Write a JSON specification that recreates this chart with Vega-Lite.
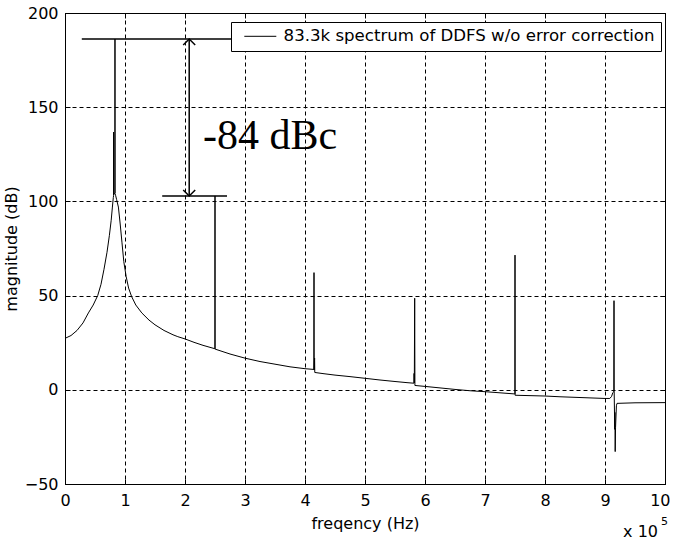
{
  "$schema": "https://vega.github.io/schema/vega-lite/v6.json",
  "width": 600,
  "height": 471,
  "autosize": {"type": "none"},
  "padding": {"left": 65, "top": 13, "right": 8, "bottom": 58},
  "background": "white",
  "config": {
    "view": {"stroke": "black", "strokeWidth": 1},
    "axis": {
      "domainColor": "black",
      "tickColor": "black",
      "labelColor": "black",
      "titleColor": "black",
      "labelFont": "DejaVu Sans",
      "labelFontSize": 16,
      "titleFont": "DejaVu Sans",
      "titleFontSize": 16,
      "titleFontWeight": "normal",
      "labelFlush": false,
      "labelOverlap": false,
      "labelBound": false
    }
  },
  "resolve": {"axis": {"x": "independent", "y": "independent"}},
  "layer": [
    {
      "data": {"values": [
        {"f": 0.00, "dB": 27.3}, {"f": 0.10, "dB": 28.8}, {"f": 0.20, "dB": 31.5}, {"f": 0.30, "dB": 35.5},
        {"f": 0.39, "dB": 40.8}, {"f": 0.47, "dB": 45.0}, {"f": 0.545, "dB": 50.0}, {"f": 0.60, "dB": 56.0},
        {"f": 0.65, "dB": 64.0}, {"f": 0.70, "dB": 73.0}, {"f": 0.74, "dB": 82.0}, {"f": 0.77, "dB": 90.0},
        {"f": 0.79, "dB": 97.0}, {"f": 0.805, "dB": 102.0}, {"f": 0.8095, "dB": 103.0}, {"f": 0.81, "dB": 136.8},
        {"f": 0.8105, "dB": 103.5}, {"f": 0.82, "dB": 104.0}, {"f": 0.8325, "dB": 104.5}, {"f": 0.833, "dB": 186.2},
        {"f": 0.8335, "dB": 104.2}, {"f": 0.845, "dB": 103.0}, {"f": 0.86, "dB": 101.0}, {"f": 0.89, "dB": 97.0},
        {"f": 0.92, "dB": 88.0}, {"f": 0.95, "dB": 78.0}, {"f": 0.98, "dB": 68.0}, {"f": 1.02, "dB": 60.0},
        {"f": 1.06, "dB": 54.0}, {"f": 1.11, "dB": 49.5}, {"f": 1.18, "dB": 45.0}, {"f": 1.28, "dB": 40.8},
        {"f": 1.40, "dB": 37.0}, {"f": 1.50, "dB": 34.5}, {"f": 1.65, "dB": 31.5}, {"f": 1.80, "dB": 29.2},
        {"f": 1.88, "dB": 28.2}, {"f": 2.00, "dB": 27.0}, {"f": 2.15, "dB": 25.2}, {"f": 2.30, "dB": 23.6},
        {"f": 2.498, "dB": 21.8}, {"f": 2.50, "dB": 102.9}, {"f": 2.502, "dB": 21.6}, {"f": 2.75, "dB": 19.0},
        {"f": 3.00, "dB": 16.8}, {"f": 3.25, "dB": 15.0}, {"f": 3.50, "dB": 13.6}, {"f": 3.75, "dB": 12.2},
        {"f": 4.00, "dB": 11.2}, {"f": 4.148, "dB": 10.8}, {"f": 4.15, "dB": 62.2}, {"f": 4.152, "dB": 10.5},
        {"f": 4.16, "dB": 16.8}, {"f": 4.163, "dB": 9.2}, {"f": 4.30, "dB": 8.6}, {"f": 4.50, "dB": 7.8},
        {"f": 4.75, "dB": 7.0}, {"f": 5.00, "dB": 6.1}, {"f": 5.25, "dB": 5.2}, {"f": 5.50, "dB": 4.4},
        {"f": 5.70, "dB": 3.8}, {"f": 5.815, "dB": 3.5}, {"f": 5.818, "dB": 8.7}, {"f": 5.822, "dB": 3.6},
        {"f": 5.828, "dB": 48.6}, {"f": 5.832, "dB": 2.3}, {"f": 6.00, "dB": 1.8}, {"f": 6.25, "dB": 1.0},
        {"f": 6.50, "dB": 0.2}, {"f": 6.75, "dB": -0.5}, {"f": 7.00, "dB": -1.0}, {"f": 7.25, "dB": -1.6},
        {"f": 7.498, "dB": -2.2}, {"f": 7.50, "dB": 71.5}, {"f": 7.502, "dB": -2.9}, {"f": 7.75, "dB": -3.1},
        {"f": 8.00, "dB": -3.3}, {"f": 8.25, "dB": -3.7}, {"f": 8.50, "dB": -4.0}, {"f": 8.75, "dB": -4.3},
        {"f": 9.00, "dB": -4.6}, {"f": 9.08, "dB": -4.6}, {"f": 9.11, "dB": -3.5}, {"f": 9.13, "dB": -1.5},
        {"f": 9.147, "dB": -1.0}, {"f": 9.15, "dB": 47.3}, {"f": 9.153, "dB": -1.0}, {"f": 9.162, "dB": -21.0},
        {"f": 9.165, "dB": -12.0}, {"f": 9.17, "dB": -32.8}, {"f": 9.176, "dB": -20.0}, {"f": 9.19, "dB": -8.5},
        {"f": 9.20, "dB": -7.2}, {"f": 9.50, "dB": -6.9}, {"f": 10.00, "dB": -6.8}
      ]},
      "mark": {"type": "line", "strokeWidth": 1},
      "encoding": {
        "x": {"field": "f", "type": "quantitative",
          "scale": {"domain": [0, 10], "nice": false, "zero": false},
          "axis": {"orient": "bottom", "title": "freqency (Hz)", "values": [0,1,2,3,4,5,6,7,8,9,10], "format": "d",
            "grid": true, "gridColor": "black", "gridDash": [4, 3], "gridOpacity": 1,
            "labelFlush": true, "labelFlushOffset": 5,
            "tickSize": -5, "labelPadding": 13, "titlePadding": 7}},
        "y": {"field": "dB", "type": "quantitative",
          "scale": {"domain": [-50, 200], "nice": false, "zero": false},
          "axis": {"orient": "left", "title": "magnitude (dB)", "values": [-50, 0, 50, 100, 150, 200], "format": "d",
            "grid": true, "gridColor": "black", "gridDash": [4, 3], "gridOpacity": 1,
            "tickSize": -5, "labelPadding": 12, "titlePadding": 5}},
        "color": {"datum": "83.3k spectrum of DDFS w/o error correction", "type": "nominal",
          "scale": {"range": ["black"]},
          "legend": {"orient": "none", "legendX": 166, "legendY": 9, "title": null,
            "symbolType": "M-0.2,0L6.2,0", "symbolSize": 100, "symbolStrokeWidth": 1,
            "symbolStrokeColor": "black", "symbolFillColor": "transparent",
            "labelFont": "DejaVu Sans", "labelFontSize": 16.6, "labelColor": "black",
            "labelOffset": 30, "labelLimit": 600, "padding": 6,
            "strokeColor": "black", "fillColor": "white"}}
      }
    },
    {
      "data": {"values": [
        {"f": 0.28, "f2": 2.77, "dB": 186.2},
        {"f": 1.62, "f2": 2.70, "dB": 102.9}
      ]},
      "mark": {"type": "rule", "strokeWidth": 1.5, "color": "black"},
      "encoding": {
        "x": {"field": "f", "type": "quantitative",
          "axis": {"orient": "top", "values": [0,1,2,3,4,5,6,7,8,9,10], "labels": false, "title": null,
            "grid": false, "tickSize": -5}},
        "x2": {"field": "f2"},
        "y": {"field": "dB", "type": "quantitative",
          "axis": {"orient": "right", "values": [-50, 0, 50, 100, 150, 200], "labels": false, "title": null,
            "grid": false, "tickSize": -5}}
      }
    },
    {
      "data": {"values": [{"f": 2.07, "top": 186.2, "bottom": 102.9}]},
      "mark": {"type": "rule", "strokeWidth": 1.5, "color": "black"},
      "encoding": {
        "x": {"field": "f", "type": "quantitative", "axis": null},
        "y": {"field": "top", "type": "quantitative", "axis": null},
        "y2": {"field": "bottom"}
      }
    },
    {
      "data": {"values": [{"f": 2.07, "dB": 186.2}]},
      "mark": {"type": "point", "shape": "M-1,1L0,0L1,1", "size": 144, "filled": false, "stroke": "black", "strokeWidth": 1.5, "opacity": 1},
      "encoding": {
        "x": {"field": "f", "type": "quantitative", "axis": null},
        "y": {"field": "dB", "type": "quantitative", "axis": null}
      }
    },
    {
      "data": {"values": [{"f": 2.07, "dB": 102.9}]},
      "mark": {"type": "point", "shape": "M-1,-1L0,0L1,-1", "size": 144, "filled": false, "stroke": "black", "strokeWidth": 1.5, "opacity": 1},
      "encoding": {
        "x": {"field": "f", "type": "quantitative", "axis": null},
        "y": {"field": "dB", "type": "quantitative", "axis": null}
      }
    },
    {
      "data": {"values": [{"f": 2.3, "dB": 127.8, "label": "-84 dBc"}]},
      "mark": {"type": "text", "font": "Liberation Serif", "fontSize": 42, "align": "left", "baseline": "alphabetic", "color": "black"},
      "encoding": {
        "x": {"field": "f", "type": "quantitative", "axis": null},
        "y": {"field": "dB", "type": "quantitative", "axis": null},
        "text": {"field": "label"}
      }
    },
    {
      "data": {"values": [{"f": 10, "dB": -50, "label": "x 10", "sup": "5"}]},
      "mark": {"type": "text", "font": "DejaVu Sans", "fontSize": 16, "align": "right", "baseline": "alphabetic", "dx": -7, "dy": 53, "color": "black", "clip": false},
      "encoding": {
        "x": {"field": "f", "type": "quantitative", "axis": null},
        "y": {"field": "dB", "type": "quantitative", "axis": null},
        "text": {"field": "label"}
      }
    },
    {
      "data": {"values": [{"f": 10, "dB": -50, "label": "x 10", "sup": "5"}]},
      "mark": {"type": "text", "font": "DejaVu Sans", "fontSize": 11, "align": "left", "baseline": "alphabetic", "dx": -4, "dy": 41, "color": "black", "clip": false},
      "encoding": {
        "x": {"field": "f", "type": "quantitative", "axis": null},
        "y": {"field": "dB", "type": "quantitative", "axis": null},
        "text": {"field": "sup"}
      }
    }
  ]
}
